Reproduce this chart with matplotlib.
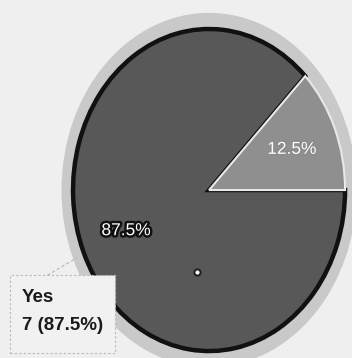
import matplotlib
matplotlib.use("Agg")
import matplotlib.pyplot as plt
import matplotlib.patheffects as pe
from matplotlib.patches import Ellipse, Rectangle

labels = ["No", "Yes"]
counts = [1, 7]
colors = ["#8f8f8f", "#585858"]

plt.rcParams["font.family"] = ["Liberation Sans", "DejaVu Sans"]

fig = plt.figure(figsize=(3.52, 3.58), dpi=100, facecolor="#efefef")
ax = fig.add_axes([0, 0, 1, 1])
ax.set_facecolor("#efefef")

# outer grey rim behind the pie
ax.add_patch(Ellipse((0, 0), 2.17, 2.2, facecolor="#c9c9c9", edgecolor="none", zorder=0))

wedges, texts, autotexts = ax.pie(
    counts, labels=None, colors=colors, startangle=0, counterclock=True,
    autopct="%.1f%%", pctdistance=0.66,
    wedgeprops=dict(edgecolor="#111111", linewidth=3.2),
    textprops=dict(color="white", fontsize=12.5),
)
# lighter slice gets a white seam on top of the dark outline
wedges[0].set_edgecolor("#e8e8e8")
wedges[0].set_linewidth(1.5)
wedges[0].set_zorder(3)
for t in autotexts:
    t.set_zorder(5)
autotexts[1].set_path_effects([pe.withStroke(linewidth=3.5, foreground="#111111")])
autotexts[0].set_path_effects([pe.withStroke(linewidth=1.5, foreground="#8a8a8a")])

# stretch the pie into the vertical ellipse
ax.set_aspect("auto")
ax.set_xlim(-1.537, 1.051)
ax.set_ylim(-1.043, 1.180)
ax.axis("off")

# small white dot inside the large slice
ax.plot([-0.09], [-0.51], "o", color="white", markersize=4.5,
        markeredgecolor="#222222", markeredgewidth=1.5, zorder=6)

# leader line and callout for the "Yes" slice
ax.plot([-1.19, -0.97], [-0.53, -0.42], color="#b5b5b5", lw=0.8, ls=(0, (3, 2)), zorder=6)
ax.add_patch(Rectangle((-1.463, -1.012), 0.772, 0.484, facecolor="#f1f1f1",
                       edgecolor="#b8b8b8", linewidth=0.8, linestyle=(0, (2, 2)), zorder=7))
ax.text(-1.375, -0.615, labels[1], fontsize=13.5, fontweight="bold",
        color="#1a1a1a", va="top", ha="left", zorder=8)
ax.text(-1.375, -0.79, f"{counts[1]} ({autotexts[1].get_text()})", fontsize=13.5,
        fontweight="bold", color="#1a1a1a", va="top", ha="left", zorder=8)

fig.savefig("out.png", dpi=100, facecolor=fig.get_facecolor())
